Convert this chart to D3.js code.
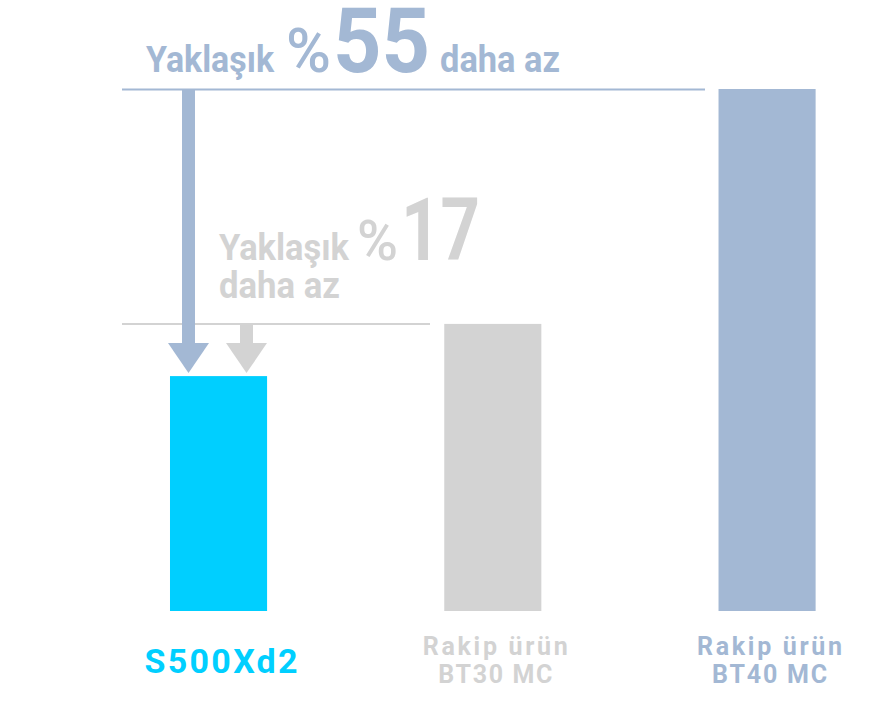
<!DOCTYPE html>
<html><head><meta charset="utf-8">
<script src="https://cdn.jsdelivr.net/npm/d3@7/dist/d3.min.js"></script>
<style>body{margin:0;background:#fff;}svg{display:block;font-family:Roboto,"Noto Sans",sans-serif;}</style>
</head><body>
<svg id="c" width="892" height="709"></svg>
<script>
const categories = ["S500Xd2", "BT30 MC", "BT40 MC"];
const labelLines = [["S500Xd2"], ["Rakip ürün", "BT30 MC"], ["Rakip ürün", "BT40 MC"]];
const values = [45, 55, 100];
const colors = ["#00CFFF", "#D3D3D3", "#A3B8D4"];

const svg = d3.select("#c");
const x = d3.scaleBand().domain(categories).range([81.4, 904.2]).paddingInner(0.646).paddingOuter(0.323);
const y = d3.scaleLinear().domain([0, 100]).range([611, 89]);

// bars
svg.selectAll("rect.bar").data(categories).join("rect")
  .attr("class","bar")
  .attr("x", d => x(d)).attr("width", x.bandwidth())
  .attr("y", (d,i) => y(values[i])).attr("height", (d,i) => y(0) - y(values[i]))
  .attr("fill", (d,i) => colors[i]);

// reference lines
svg.append("line").attr("x1",122).attr("x2",705).attr("y1",y(100)+0.5).attr("y2",y(100)+0.5)
  .attr("stroke",colors[2]).attr("stroke-width",2);
svg.append("line").attr("x1",122).attr("x2",430).attr("y1",y(55)).attr("y2",y(55))
  .attr("stroke","#D3D3D3").attr("stroke-width",2);

// arrows
function arrow(cx, y0, tip, shaftW, headW, headH, color){
  const yb = tip - headH;
  svg.append("rect").attr("x", cx - shaftW/2).attr("y", y0).attr("width", shaftW).attr("height", yb - y0 + 1).attr("fill", color);
  svg.append("path").attr("d", `M${cx-headW/2},${yb}L${cx+headW/2},${yb}L${cx},${tip}Z`).attr("fill", color);
}
const tipY = y(45) - 3;
arrow(188.5, y(100), tipY, 13, 41, 30, colors[2]);
arrow(246.5, y(55), tipY, 13, 41, 30, "#D3D3D3");

// annotation texts
function txt(s, xx, yy, size, len, color, weight){
  svg.append("text").attr("x", xx).attr("y", yy).attr("font-size", size).attr("font-weight", weight||700)
    .attr("fill", color).attr("textLength", len).attr("lengthAdjust","spacingAndGlyphs").text(s);
}
const blue = colors[2], gray = "#D3D3D3";
txt("Yaklaşık", 146, 72, 37, 128, blue);
txt("%", 286, 72, 62, 45, blue, 500);
txt("55", 333, 72, 90, 97, blue);
txt("daha az", 440, 72, 37, 120, blue);

txt("Yaklaşık", 219, 260, 37, 130, gray);
txt("%", 357, 260, 55, 41, gray, 500);
txt("17", 401, 260, 88, 79, gray);
txt("daha az", 219, 298, 37, 121, gray);

// category labels
const labelSize = [34, 25, 25];
const labelW = [[153], [145, 114], [145, 115]];
const baselines = [[673], [655, 683], [655, 683]];
categories.forEach((c, i) => {
  labelLines[i].forEach((ln, j) => {
    svg.append("text").attr("x", x(c) + x.bandwidth()/2 + 2.5).attr("y", baselines[i][j])
      .attr("text-anchor","middle").attr("font-size", labelSize[i]).attr("font-weight",700)
      .attr("fill", colors[i]).attr("textLength", labelW[i][j]).attr("lengthAdjust","spacing").text(ln);
  });
});
</script>
</body></html>
